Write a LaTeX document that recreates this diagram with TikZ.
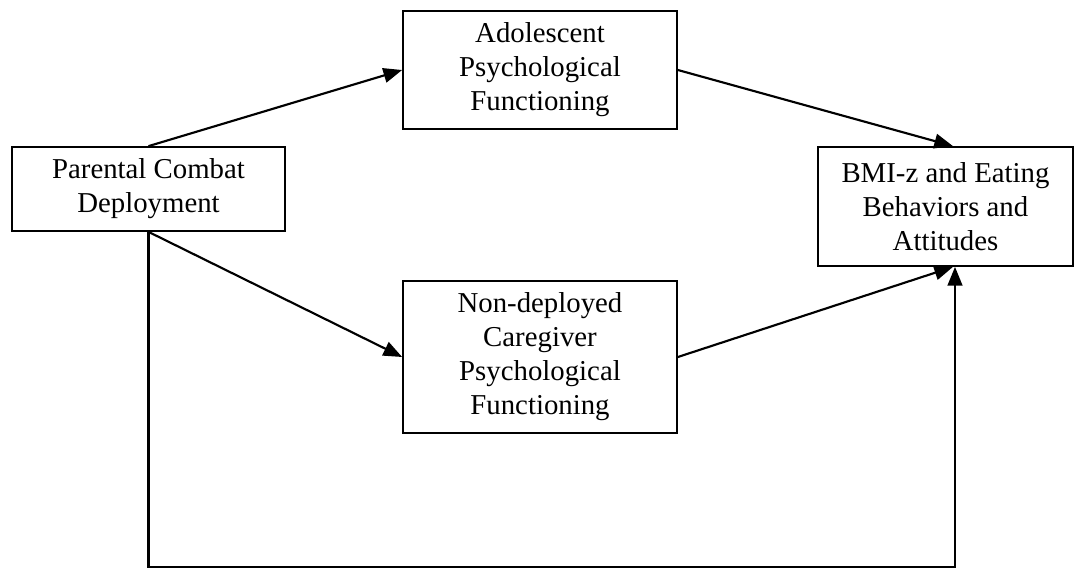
\documentclass[tikz,border=0pt]{standalone}
\usepackage{fontspec}
\setmainfont{Liberation Serif}
\usetikzlibrary{arrows.meta,calc}
\begin{document}
\begin{tikzpicture}[x=0.75pt,y=-0.75pt,
  box/.style={draw,line width=1.3pt,align=center,inner sep=0pt,
    font=\fontsize{21.6}{25.5}\selectfont},
  conn/.style={line width=1.6pt,-{Triangle[length=14pt,width=11pt]}}]
\useasboundingbox (0,0) rectangle (1083,571);
\node[box,minimum width=273*0.75pt,minimum height=84*0.75pt] (par) at (148.5,189) {Parental Combat\\Deployment};
\node[box,minimum width=274*0.75pt,minimum height=118*0.75pt] (adol) at (540,70) {Adolescent\\Psychological\\Functioning};
\node[box,minimum width=274*0.75pt,minimum height=152*0.75pt] (nd) at (540,357) {Non-deployed\\Caregiver\\Psychological\\Functioning};
\node[box,minimum width=255*0.75pt,minimum height=119*0.75pt] (bmi) at (945.5,206.5) {BMI-z and Eating\\Behaviors and\\Attitudes};
\coordinate (bl) at (par.south |- 0,567);
\coordinate (br) at ($(bmi.south)+(9.5,0)$);
\draw[conn] (par.north) -- (adol.west);
\draw[conn] (adol.east) -- ($(bmi.north)+(7.5,0)$);
\draw[conn] (par.south) -- (nd.west);
\draw[conn] (nd.east) -- ($(bmi.south)+(7.5,0)$);
\draw[conn] (par.south) -- (bl) -- (bl -| br) -- (br);
\end{tikzpicture}
\end{document}
